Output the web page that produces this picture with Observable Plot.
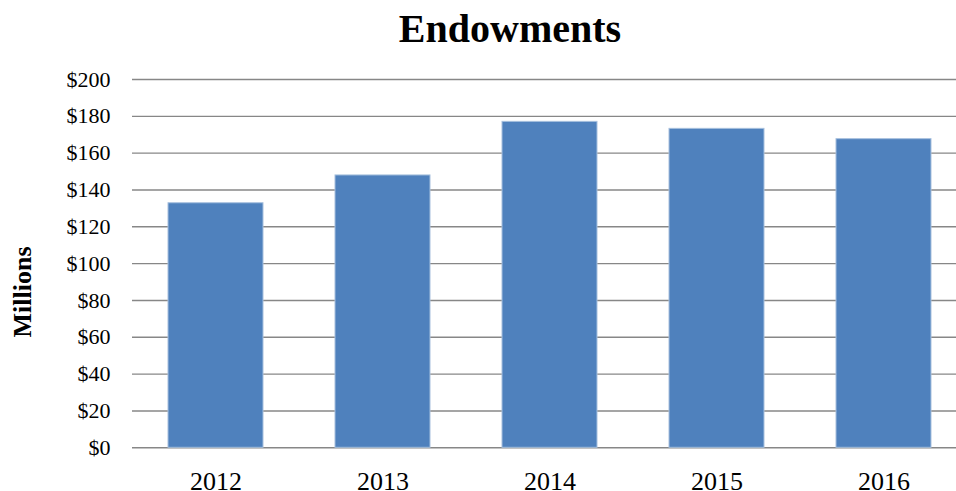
<!DOCTYPE html>
<html>
<head>
<meta charset="utf-8">
<script src="https://cdn.jsdelivr.net/npm/d3@7"></script>
<script src="https://cdn.jsdelivr.net/npm/@observablehq/plot@0.6"></script>
<style>
  html, body { margin: 0; padding: 0; background: #fff; }
  #wrap { position: relative; width: 956px; height: 491px; overflow: hidden; font-family: "Liberation Serif", "Times New Roman", serif; }
  #title { position: absolute; top: 0; left: 510px; transform: translateX(-50%); font-size: 40px; font-weight: bold; line-height: 58px; white-space: nowrap; color: #000; }
  #ylabel { position: absolute; left: 23px; top: 292px; transform: translate(-50%, -50%) rotate(-90deg); font-size: 26px; font-weight: bold; white-space: nowrap; color: #000; }
  #chart { position: absolute; top: 58px; left: 0; }
</style>
</head>
<body>
<div id="wrap">
  <div id="title">Endowments</div>
  <div id="ylabel">Millions</div>
  <div id="chart"></div>
</div>
<script>
const years = ["2012", "2013", "2014", "2015", "2016"];
const values = [132.8, 147.9, 177.0, 173.2, 167.6];
const yTicks = [0, 20, 40, 60, 80, 100, 120, 140, 160, 180, 200];

const data = years.map((y, i) => ({year: y, value: values[i]}));

const chart = Plot.plot({
  width: 956,
  height: 433,
  marginTop: 21,
  marginBottom: 43.7,
  marginLeft: 132,
  marginRight: 0,
  style: {fontFamily: "'Liberation Serif', 'Times New Roman', serif", color: "#000", background: "transparent"},
  x: {domain: years, range: [130.6, 967.6], paddingInner: 0.432, paddingOuter: 0.216},
  y: {domain: [0, 200]},
  marks: [
    Plot.ruleY(yTicks, {stroke: "#878787", strokeWidth: 1.4, strokeOpacity: 1}),
    Plot.barY(data, {x: "year", y: "value", fill: "#4F81BD", stroke: "#A7C0DE", strokeWidth: 1}),
    Plot.axisY(yTicks, {tickSize: 0, tickPadding: 22, fontSize: 22, label: null, tickFormat: d => "$" + d}),
    Plot.axisX({tickSize: 0, tickPadding: 24, fontSize: 26, label: null})
  ]
});
document.getElementById("chart").appendChild(chart);
</script>
</body>
</html>
